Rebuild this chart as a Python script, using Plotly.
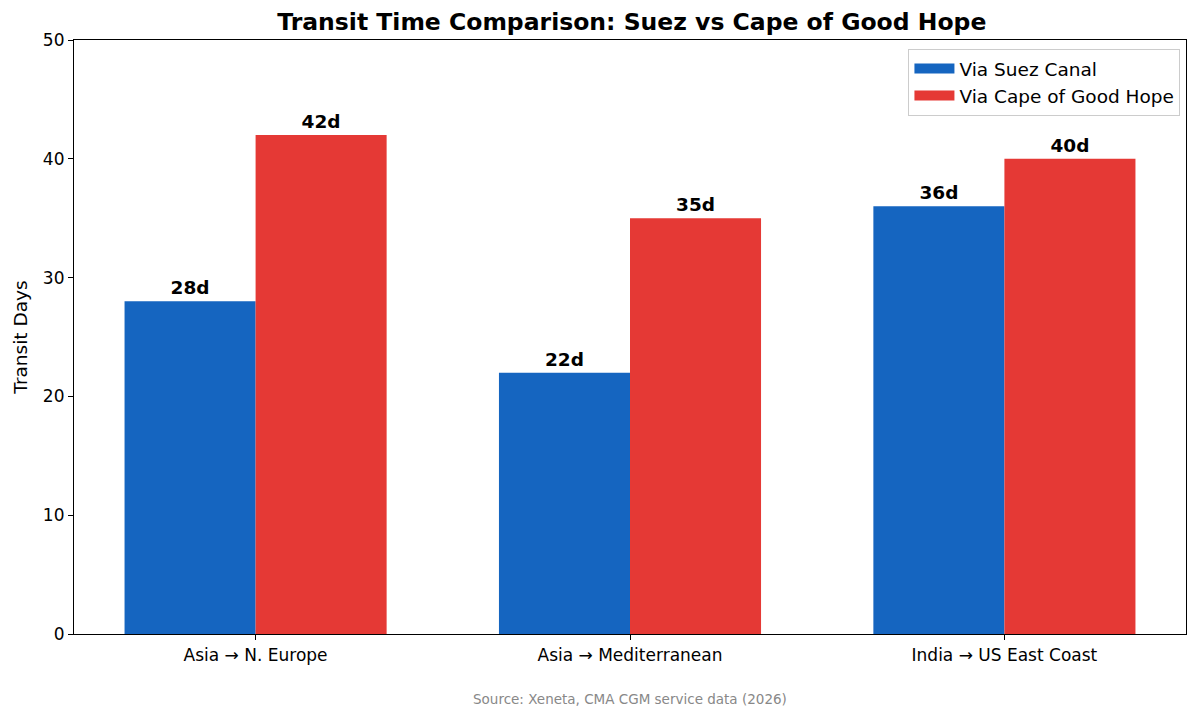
import plotly.graph_objects as go

# data
routes = ["Asia → N. Europe", "Asia → Mediterranean", "India → US East Coast"]
suez_days = [28, 22, 36]
cape_days = [42, 35, 40]
series_names = ["Via Suez Canal", "Via Cape of Good Hope"]

BLUE = "#1565C0"
RED = "#E53935"
FONT = "DejaVu Sans, Liberation Sans, sans-serif"

data = []
for name, vals, color in zip(series_names, [suez_days, cape_days], [BLUE, RED]):
    data.append(go.Bar(
        x=routes,
        y=vals,
        name=name,
        legendgroup=name,
        showlegend=False,
        marker=dict(color=color, line=dict(width=0)),
        text=[f"<b>{v}d</b>" for v in vals],
        textposition="outside",
        textfont=dict(size=18.5, color="black", family=FONT),
        cliponaxis=False,
    ))

# wide rectangle legend keys like matplotlib's
for name, color in zip(series_names, [BLUE, RED]):
    data.append(go.Scatter(
        x=[None], y=[None], mode="lines", name=name, legendgroup=name,
        line=dict(color=color, width=10),
    ))

fig = go.Figure(data=data)

# page has an 8px body margin, so the figure is a bit smaller and shifted
fig.update_layout(
    width=1192,
    height=713,
    barmode="group",
    bargap=0.3,
    bargroupgap=0,
    paper_bgcolor="white",
    plot_bgcolor="white",
    font=dict(family=FONT, size=17, color="black"),
    margin=dict(l=62, r=14, t=32, b=87),
    title=dict(
        text="<b>Transit Time Comparison: Suez vs Cape of Good Hope</b>",
        x=0.5233, xanchor="center", y=0.981, yanchor="middle",
        font=dict(size=23.5, family=FONT, color="black"),
    ),
    legend=dict(
        x=0.995, y=0.985, xanchor="right", yanchor="top",
        bgcolor="rgba(255,255,255,0.9)",
        bordercolor="#cccccc", borderwidth=1,
        font=dict(size=18.5, family=FONT),
        itemwidth=40,
        tracegroupgap=0,
    ),
    xaxis=dict(
        range=[-0.485, 2.485],
        showline=True, linecolor="black", linewidth=1.2, mirror=True,
        ticks="outside", ticklen=5, tickcolor="black",
        showgrid=False, zeroline=False,
        tickfont=dict(size=17),
    ),
    yaxis=dict(
        range=[0, 50],
        tickvals=[0, 10, 20, 30, 40, 50],
        showline=True, linecolor="black", linewidth=1.2, mirror=True,
        ticks="outside", ticklen=5, tickcolor="black",
        showgrid=False, zeroline=False,
        tickfont=dict(size=17),
        title=dict(text="Transit Days", font=dict(size=18.5), standoff=10),
    ),
    annotations=[
        dict(
            text="Source: Xeneta, CMA CGM service data (2026)",
            xref="paper", yref="paper", x=0.5, y=-0.11,
            xanchor="center", yanchor="middle", showarrow=False,
            font=dict(size=13.5, color="#888888", family=FONT),
        )
    ],
)

fig.write_html("out.html")
